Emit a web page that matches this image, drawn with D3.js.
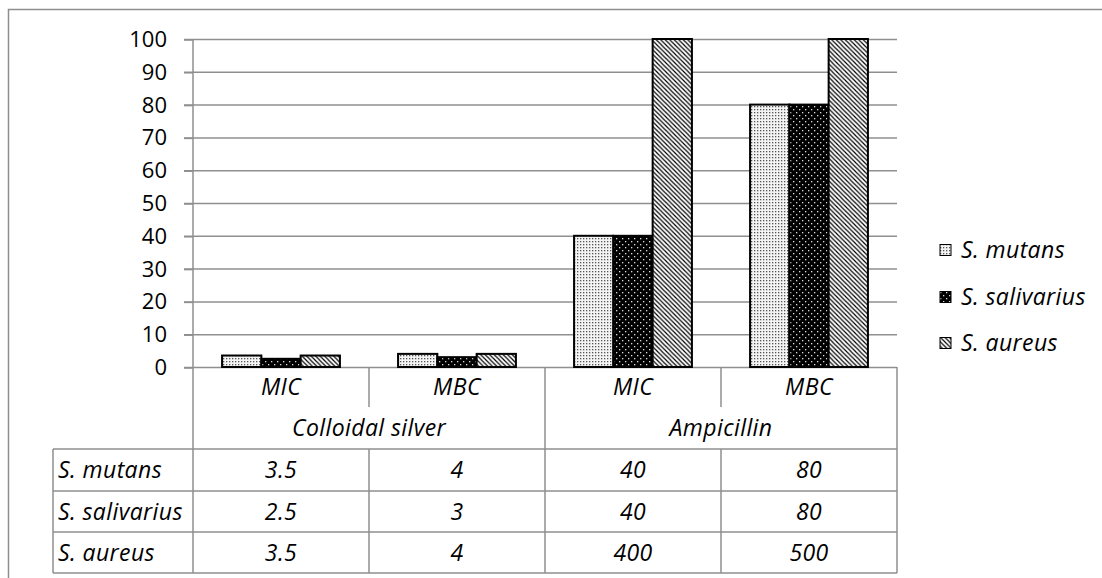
<!DOCTYPE html>
<html>
<head>
<meta charset="utf-8">
<script src="https://cdn.jsdelivr.net/npm/d3@7"></script>
<style>
  html, body { margin: 0; padding: 0; background: #fff; }
  svg { display: block; }
  text { font-family: "Open Sans", "Liberation Sans", sans-serif; fill: #000; }
  text.it { font-style: italic; letter-spacing: 0.4px; }
</style>
</head>
<body>
<div id="chart"></div>
<script>
// ---------- data ----------
const categories = ["MIC", "MBC", "MIC", "MBC"];
const groups = ["Colloidal silver", "Ampicillin"];
const groupSpans = [[0, 1], [2, 3]];
const seriesNames = ["S. mutans", "S. salivarius", "S. aureus"];
const mutans = [3.5, 4, 40, 80];
const salivarius = [2.5, 3, 40, 80];
const aureus = [3.5, 4, 400, 500];
const yTicks = [0, 10, 20, 30, 40, 50, 60, 70, 80, 90, 100];
const seriesValues = [mutans, salivarius, aureus];

// ---------- layout ----------
const W = 1102, H = 578;
const plotLeft = 193, plotRight = 897, plotTop = 39, plotBottom = 367;
const tableLeft = 53;
const catRowBottom = 407, groupRowBottom = 449;
const rowH = [449, 491, 532, 573];
const lineColor = "#8f8f8f";
const fontSize = 22, itSize = 23;

const svg = d3.select("#chart").append("svg").attr("width", W).attr("height", H);

// patterns
const defs = svg.append("defs");
const pM = defs.append("pattern").attr("id", "pMutans").attr("patternUnits", "userSpaceOnUse")
  .attr("width", 3).attr("height", 3);
pM.append("rect").attr("width", 3).attr("height", 3).attr("fill", "#f4f4f4");
pM.append("rect").attr("x", 1).attr("y", 1).attr("width", 1.3).attr("height", 1.3).attr("fill", "#555");

const pS = defs.append("pattern").attr("id", "pSaliv").attr("patternUnits", "userSpaceOnUse")
  .attr("width", 6).attr("height", 6);
pS.append("rect").attr("width", 6).attr("height", 6).attr("fill", "#000");
pS.append("rect").attr("x", 1).attr("y", 1).attr("width", 1.3).attr("height", 1.3).attr("fill", "#ddd");
pS.append("rect").attr("x", 4).attr("y", 4).attr("width", 1.3).attr("height", 1.3).attr("fill", "#ddd");

const pA = defs.append("pattern").attr("id", "pAureus").attr("patternUnits", "userSpaceOnUse")
  .attr("width", 4.5).attr("height", 4.5);
pA.append("rect").attr("width", 4.5).attr("height", 4.5).attr("fill", "#fff");
pA.append("path").attr("d", "M-1,-1L5.5,5.5M3.5,-1L5.5,1M-1,3.5L1,5.5")
  .attr("stroke", "#000").attr("stroke-width", 1.2);

const fills = ["url(#pMutans)", "url(#pSaliv)", "url(#pAureus)"];

// outer border
svg.append("rect").attr("x", 8.5).attr("y", 9.5).attr("width", 1200).attr("height", 700)
  .attr("fill", "none").attr("stroke", lineColor).attr("stroke-width", 1.5);

// scales
const x = d3.scaleBand().domain(d3.range(categories.length)).range([plotLeft, plotRight]).padding(0);
const xs = d3.scaleBand().domain(d3.range(seriesNames.length)).range([0, x.bandwidth()])
  .paddingInner(0).paddingOuter(0.74);
const y = d3.scaleLinear().domain([0, 100]).range([plotBottom, plotTop]).clamp(true);

// gridlines
svg.append("g").selectAll("line").data(yTicks).join("line")
  .attr("x1", plotLeft - 9).attr("x2", plotRight)
  .attr("y1", d => y(d) + 0.5).attr("y2", d => y(d) + 0.5)
  .attr("stroke", lineColor).attr("stroke-width", 1.5);

// y axis labels
const yAxis = d3.axisLeft(y).tickValues(yTicks).tickSize(9).tickPadding(17);
const ya = svg.append("g").attr("transform", `translate(${plotLeft},0.5)`).call(yAxis);
ya.select(".domain").remove();
ya.selectAll(".tick line").attr("stroke", lineColor).attr("stroke-width", 1.5);
ya.selectAll(".tick text").attr("font-size", fontSize).attr("font-family", "Open Sans");

// bars
const barData = [];
seriesValues.forEach((vals, si) => vals.forEach((v, ci) => barData.push({ si, ci, v })));
svg.append("g").selectAll("rect").data(barData).join("rect")
  .attr("x", d => x(d.ci) + xs(d.si))
  .attr("width", xs.bandwidth())
  .attr("y", d => y(d.v))
  .attr("height", d => y(0) - y(d.v))
  .attr("fill", d => fills[d.si])
  .attr("stroke", "#000").attr("stroke-width", 2);

// ---------- table ----------
const tg = svg.append("g").attr("stroke", lineColor).attr("stroke-width", 1.5);
tg.append("line").attr("x1", plotLeft).attr("x2", plotLeft).attr("y1", plotTop).attr("y2", rowH[3]);
categories.forEach((c, i) => {
  const xr = x(i) + x.bandwidth();
  const isGroupEnd = groupSpans.some(s => s[1] === i);
  if (isGroupEnd) {
    tg.append("line").attr("x1", xr).attr("x2", xr).attr("y1", plotBottom).attr("y2", rowH[3]);
  } else {
    tg.append("line").attr("x1", xr).attr("x2", xr).attr("y1", plotBottom).attr("y2", catRowBottom);
    tg.append("line").attr("x1", xr).attr("x2", xr).attr("y1", groupRowBottom).attr("y2", rowH[3]);
  }
});
rowH.forEach(yy => {
  tg.append("line").attr("x1", tableLeft).attr("x2", plotRight).attr("y1", yy).attr("y2", yy);
});
tg.append("line").attr("x1", tableLeft).attr("x2", tableLeft).attr("y1", rowH[0]).attr("y2", rowH[3]);

// category labels
svg.append("g").selectAll("text").data(categories).join("text").attr("class", "it")
  .attr("x", (d, i) => x(i) + x.bandwidth() / 2)
  .attr("y", 387).attr("dy", "0.35em")
  .attr("text-anchor", "middle").attr("font-size", itSize)
  .text(d => d);
// group labels
svg.append("g").selectAll("text").data(groups).join("text").attr("class", "it")
  .attr("x", (d, i) => (x(groupSpans[i][0]) + x(groupSpans[i][1]) + x.bandwidth()) / 2)
  .attr("y", 428).attr("dy", "0.35em")
  .attr("text-anchor", "middle").attr("font-size", itSize)
  .text(d => d);

// data rows
seriesNames.forEach((name, si) => {
  const cy = (rowH[si] + rowH[si + 1]) / 2;
  svg.append("text").attr("class", "it").attr("x", tableLeft + 5).attr("y", cy).attr("dy", "0.35em")
    .attr("font-size", itSize).text(name);
  svg.append("g").selectAll("text").data(seriesValues[si]).join("text").attr("class", "it")
    .attr("x", (d, i) => x(i) + x.bandwidth() / 2)
    .attr("y", cy).attr("dy", "0.35em")
    .attr("text-anchor", "middle").attr("font-size", itSize)
    .text(d => d);
});

// legend
const legendY = [250, 297, 343];
const lg = svg.append("g");
seriesNames.forEach((name, si) => {
  lg.append("rect").attr("x", 940).attr("y", legendY[si] - 5.5).attr("width", 11).attr("height", 11)
    .attr("fill", fills[si]).attr("stroke", "#000").attr("stroke-width", 1);
  lg.append("text").attr("class", "it").attr("x", 961).attr("y", legendY[si]).attr("dy", "0.35em")
    .attr("font-size", itSize).text(name);
});
</script>
</body>
</html>
